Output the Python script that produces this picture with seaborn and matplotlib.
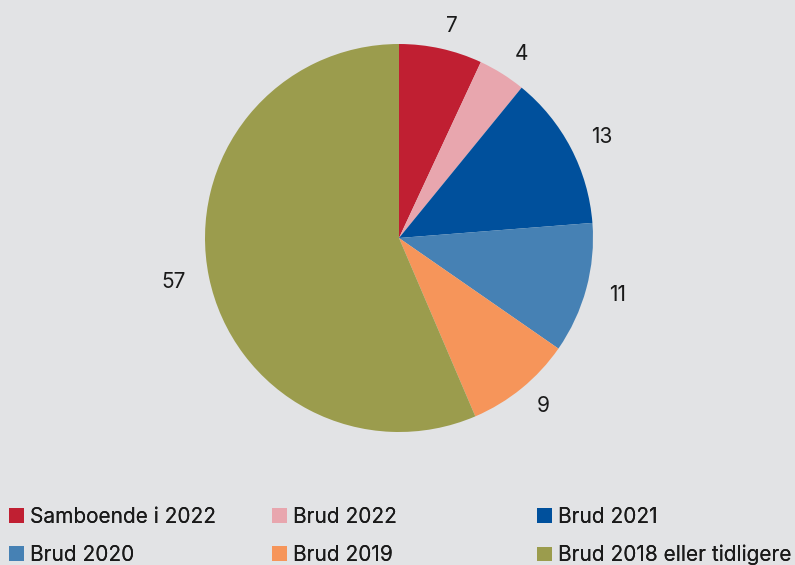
import matplotlib
matplotlib.use("Agg")
import matplotlib.pyplot as plt
import seaborn as sns
from matplotlib.patches import Patch

categories = ["Samboende i 2022", "Brud 2022", "Brud 2021", "Brud 2020", "Brud 2019", "Brud 2018 eller tidligere"]
values = [7, 4, 13, 11, 9, 57]
colors = ["#c01f32", "#e8a6ae", "#00509c", "#4681b4", "#f6955a", "#9b9c4d"]

bg = "#e2e3e5"
sns.set_theme(style="white")
plt.rcParams["font.family"] = ["Inter", "DejaVu Sans"]

fig = plt.figure(figsize=(7.95, 5.65), dpi=100, facecolor=bg)
ax = fig.add_axes([205/795, (565-432)/565, 388/795, 388/565])
ax.set_facecolor(bg)
ax.pie(values, colors=colors, startangle=90, counterclock=False,
       labels=[str(v) for v in values], labeldistance=1.12,
       textprops=dict(fontsize=15, color="#1a1a1a"),
       wedgeprops=dict(linewidth=0))
ax.set_xlim(-1, 1)
ax.set_ylim(-1, 1)
ax.set_aspect("equal")
ax.axis("off")

col_x = [9/795, 272/795, 537/795]
for c in range(3):
    idx = [c, c + 3]
    handles = [Patch(facecolor=colors[i], edgecolor="none") for i in idx]
    leg = fig.legend(handles, [categories[i] for i in idx], loc="upper left",
                     bbox_to_anchor=(col_x[c], 1 - 507/565), frameon=False,
                     fontsize=15, handlelength=0.7, handleheight=0.7,
                     handletextpad=0.3, labelspacing=0.85, borderaxespad=0,
                     borderpad=0, labelcolor="#1a1a1a")
    fig.add_artist(leg)

fig.savefig("out.png", dpi=100, facecolor=bg)
